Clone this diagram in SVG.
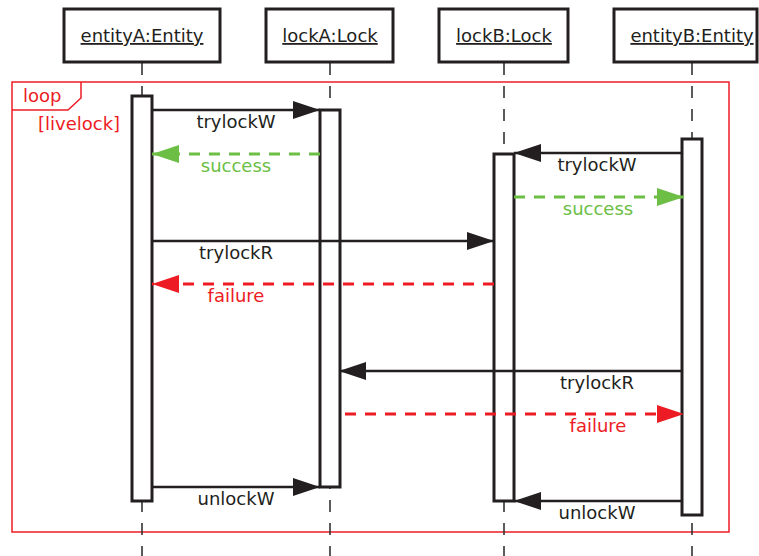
<svg xmlns="http://www.w3.org/2000/svg" width="759" height="556" viewBox="0 0 759 556">
<style>
text{font-family:"DejaVu Sans","Liberation Sans",sans-serif;font-size:18px;fill:#231f20}
.head{fill:#fff;stroke:#231f20;stroke-width:3}
.life{stroke:#333;stroke-width:1.6;stroke-dasharray:12 11;fill:none}
.act{fill:#fff;stroke:#231f20;stroke-width:3}
.msg{stroke:#231f20;stroke-width:2.5;fill:none}
.ok{stroke:#6cbe45;stroke-width:2.8;stroke-dasharray:11 9;fill:none}
.bad{stroke:#ed1c24;stroke-width:2.8;stroke-dasharray:11 9;fill:none}
.frame{stroke:#ed1c24;stroke-width:1.5;fill:none}
.red{fill:#ed1c24}
.green{fill:#6cbe45}
</style>
<defs>
<marker id="aBlack" markerUnits="userSpaceOnUse" markerWidth="28" markerHeight="18" refX="27" refY="9" orient="auto"><path d="M0,0 L27,9 L0,18 z" fill="#231f20"/></marker>
<marker id="aGreen" markerUnits="userSpaceOnUse" markerWidth="28" markerHeight="18" refX="27" refY="9" orient="auto"><path d="M0,0 L27,9 L0,18 z" fill="#6cbe45"/></marker>
<marker id="aRed" markerUnits="userSpaceOnUse" markerWidth="28" markerHeight="18" refX="27" refY="9" orient="auto"><path d="M0,0 L27,9 L0,18 z" fill="#ed1c24"/></marker>
</defs>
<g id="loopFrame">
<rect class="frame" x="12" y="82" width="717" height="450"/>
<path class="frame" d="M81,82 V98 L68,110 H12"/>
<text class="red" x="23" y="102">loop</text>
<text class="red" x="38" y="130">[livelock]</text>
</g>
<g id="entityA">
<line class="life" x1="142" y1="63" x2="142" y2="556"/>
<rect class="head" x="64" y="9" width="156" height="53"/>
<text x="142" y="42" text-anchor="middle" text-decoration="underline">entityA:Entity</text>
<rect class="act" x="132" y="96" width="20" height="405"/>
</g>
<g id="lockA">
<line class="life" x1="330" y1="63" x2="330" y2="556"/>
<rect class="head" x="266" y="9" width="127" height="53"/>
<text x="330" y="42" text-anchor="middle" text-decoration="underline">lockA:Lock</text>
<rect class="act" x="320" y="110" width="20" height="377"/>
</g>
<g id="lockB">
<line class="life" x1="504" y1="63" x2="504" y2="556"/>
<rect class="head" x="439" y="9" width="129" height="53"/>
<text x="504" y="42" text-anchor="middle" text-decoration="underline">lockB:Lock</text>
<rect class="act" x="494" y="154" width="20" height="347"/>
</g>
<g id="entityB">
<line class="life" x1="692" y1="63" x2="692" y2="556"/>
<rect class="head" x="614" y="9" width="143" height="53"/>
<text x="692" y="42" text-anchor="middle" text-decoration="underline">entityB:Entity</text>
<rect class="act" x="682" y="139" width="20" height="376"/>
</g>
<g id="connectors">
<line class="msg" x1="152" y1="110" x2="320" y2="110" marker-end="url(#aBlack)"/>
<text x="236" y="128" text-anchor="middle">trylockW</text>
<line class="ok" x1="320" y1="154" x2="152" y2="154" marker-end="url(#aGreen)"/>
<text class="green" x="236" y="172" text-anchor="middle">success</text>
<line class="msg" x1="682" y1="153" x2="514" y2="153" marker-end="url(#aBlack)"/>
<text x="597" y="171" text-anchor="middle">trylockW</text>
<line class="ok" x1="514" y1="197" x2="684" y2="197" marker-end="url(#aGreen)"/>
<text class="green" x="598" y="215" text-anchor="middle">success</text>
<line class="msg" x1="152" y1="241" x2="494" y2="241" marker-end="url(#aBlack)"/>
<text x="236" y="259" text-anchor="middle">trylockR</text>
<line class="bad" x1="494" y1="284" x2="152" y2="284" marker-end="url(#aRed)"/>
<text class="red" x="236" y="302" text-anchor="middle">failure</text>
<line class="msg" x1="682" y1="371" x2="339" y2="371" marker-end="url(#aBlack)"/>
<text x="597" y="389" text-anchor="middle">trylockR</text>
<line class="bad" x1="345" y1="414" x2="684" y2="414" marker-end="url(#aRed)"/>
<text class="red" x="598" y="432" text-anchor="middle">failure</text>
<line class="msg" x1="152" y1="487" x2="320" y2="487" marker-end="url(#aBlack)"/>
<text x="236" y="505" text-anchor="middle">unlockW</text>
<line class="msg" x1="682" y1="501" x2="514" y2="501" marker-end="url(#aBlack)"/>
<text x="597" y="519" text-anchor="middle">unlockW</text>
</g>
</svg>
